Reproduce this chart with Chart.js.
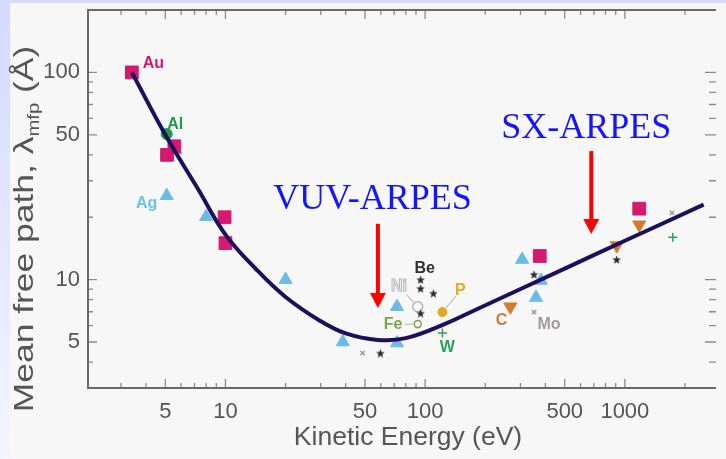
<!DOCTYPE html>
<html>
<head>
<meta charset="utf-8">
<script src="https://cdn.jsdelivr.net/npm/chart.js@4.4.0/dist/chart.umd.min.js"></script>
<style>
html, body { margin: 0; padding: 0; background: #f7f7f7; }
canvas { display: block; }
</style>
</head>
<body>
<canvas id="mfp" width="726" height="459"></canvas>
<script>
// universal curve: kinetic energy (eV) vs mean free path (Å)
const curveE = [3.4, 5, 7.3, 10, 14.4, 20, 30, 40, 58, 80, 125, 176, 500, 1000, 2480];
const curveL = [100, 50, 27.3, 16.5, 11.1, 8.25, 6.3, 5.5, 5.12, 5.22, 6.1, 7.1, 11.3, 15.4, 23];

// measured elements, grouped by marker
const squareE = [3.4, 5.1, 5.55, 9.9, 10, 375, 1180];
const squareL = [100, 40, 44, 20, 15, 13, 22];
const triE = [5.62, 5.08, 8.0, 20, 38.7, 72.3, 72.3, 306, 380, 359];
const triL = [42.2, 25.4, 20.1, 10, 5.0, 7.4, 4.94, 12.5, 9.9, 8.2];
const downE = [267, 910, 1180];
const downL = [7.4, 14.6, 18.4];
const starE = [59.7, 94.9, 94.9, 110, 94.9, 351, 910];
const starL = [4.42, 10, 9.08, 8.6, 6.89, 10.6, 12.5];
const xMarkE = [48.6, 351, 1722];
const xMarkL = [4.42, 6.97, 21];
const plusE = [122, 1738];
const plusL = [5.52, 16];
const alE = [5.08], alL = [50.4];
const niE = [91.8], niL = [7.4];
const feE = [91.8], feL = [6.1];
const pE = [122], pL = [6.97];

const xTicks = [5, 10, 50, 100, 500, 1000];
const yTicks = [5, 10, 50, 100];

const FONT = '"Liberation Sans", Arial, sans-serif';

const pts = (E, L) => E.map((e, i) => ({ x: e, y: L[i] }));

function makeStar(size, color) {
    const c = document.createElement('canvas');
    c.width = c.height = size;
    const g = c.getContext('2d');
    g.fillStyle = color;
    g.beginPath();
    for (let i = 0; i < 10; i++) {
        const r = i % 2 ? size * 0.22 : size * 0.5;
        const a = -Math.PI / 2 + i * Math.PI / 5;
        g.lineTo(size / 2 + r * Math.cos(a), size / 2 + 0.5 + r * Math.sin(a));
    }
    g.closePath();
    g.fill();
    return c;
}
const starImg = makeStar(9, '#2b2b2b');

// text notes, arrows (placed in data space)
const notes = [
    { t: 'Au', e: 4.36, l: 110, c: '#d6186e' },
    { t: 'Al', e: 5.6, l: 56, c: '#1f9a4a' },
    { t: 'Ag', e: 4.03, l: 23.4, c: '#6cc0ea' },
    { t: 'Be', e: 99.5, l: 11.3, c: '#333333' },
    { t: 'Ni', e: 74, l: 9.25, c: '#f2f2f2', stroke: '#b5b5b5', to: [91.8, 7.4], cut: [11, 6] },
    { t: 'Fe', e: 69, l: 6.08, c: '#7aa54a', to: [91.8, 6.1], cut: [12, 4] },
    { t: 'P', e: 150, l: 8.85, c: '#e5a823', to: [122, 6.97], cut: [7, 5] },
    { t: 'C', e: 241, l: 6.35, c: '#cf7a35' },
    { t: 'Mo', e: 417, l: 6.08, c: '#a09a9a' },
    { t: 'W', e: 129, l: 4.71, c: '#2aa055' }
];
const arrows = [
    { t: 'VUV-ARPES', te: 54.5, tl: 21.9, e: 58, from: 18.6, to: 7.3 },
    { t: 'SX-ARPES', te: 640, tl: 48.2, e: 679, from: 41.7, to: 16.6 }
];

function minorTicks(min, max, major) {
    const out = [];
    for (let d = 1; d <= 1000; d *= 10) {
        for (let m = 1; m <= 9; m++) {
            const v = m * d;
            if (v > min && v < max && !major.includes(v)) out.push(v);
        }
    }
    return out;
}

const framePlugin = {
    id: 'frame',
    beforeDraw(chart) {
        const { ctx, width, height } = chart;
        const grad = ctx.createLinearGradient(0, 0, 0, height);
        grad.addColorStop(0, '#d3d9ff');
        grad.addColorStop(1, '#f3f5ff');
        ctx.save();
        ctx.fillStyle = grad;
        ctx.fillRect(0, 0, width, height);
        ctx.fillStyle = '#d4daff';
        ctx.fillRect(0, 0, width, 3);
        ctx.fillStyle = '#f7f7f7';
        ctx.fillRect(10, 3, width - 10, height - 3);
        ctx.restore();
    },
    beforeDatasetsDraw(chart) {
        const { ctx, chartArea: a, scales: { x, y } } = chart;
        ctx.save();
        ctx.strokeStyle = '#8a8a8a';
        ctx.lineWidth = 1.3;
        const tick = (v, len, horiz) => {
            if (horiz) {
                const px = x.getPixelForValue(v);
                ctx.moveTo(px, a.bottom); ctx.lineTo(px, a.bottom - len);
                ctx.moveTo(px, a.top); ctx.lineTo(px, a.top + len);
            } else {
                const py = y.getPixelForValue(v);
                ctx.moveTo(a.left, py); ctx.lineTo(a.left + len, py);
                ctx.moveTo(a.right, py); ctx.lineTo(a.right - len - 2, py);
            }
        };
        ctx.beginPath();
        xTicks.forEach(v => tick(v, 9, true));
        minorTicks(x.min, x.max, xTicks).forEach(v => tick(v, 5, true));
        yTicks.forEach(v => tick(v, 9, false));
        minorTicks(y.min, y.max, yTicks).forEach(v => tick(v, 5, false));
        ctx.stroke();
        // frame: top, left, bottom (right edge falls off the picture)
        ctx.strokeStyle = '#6a6a6a';
        ctx.lineWidth = 2;
        ctx.beginPath();
        ctx.moveTo(a.right, a.top); ctx.lineTo(a.left, a.top);
        ctx.lineTo(a.left, a.bottom); ctx.lineTo(a.right, a.bottom);
        ctx.stroke();

        // axis titles
        ctx.fillStyle = '#555';
        ctx.font = '26.5px ' + FONT;
        ctx.textAlign = 'center';
        ctx.textBaseline = 'alphabetic';
        ctx.fillText('Kinetic Energy (eV)', 408, 445);

        ctx.translate(33, 229);
        ctx.rotate(-Math.PI / 2);
        ctx.scale(1.265, 1);
        ctx.textAlign = 'left';
        const big = '28px ' + FONT, small = '16px ' + FONT;
        const s1 = 'Mean free path, \u03bb', s2 = 'mfp', s3 = ' (\u00c5)';
        ctx.font = big; const w1 = ctx.measureText(s1).width, w3 = ctx.measureText(s3).width;
        ctx.font = small; const w2 = ctx.measureText(s2).width;
        let cx = -(w1 + w2 + w3) / 2;
        ctx.font = big; ctx.fillText(s1, cx, 0); cx += w1;
        ctx.font = small; ctx.fillText(s2, cx, 6); cx += w2;
        ctx.font = big; ctx.fillText(s3, cx, 0);
        ctx.restore();
    },
    afterDatasetsDraw(chart) {
        const { ctx, scales: { x, y } } = chart;
        ctx.save();
        ctx.textAlign = 'center';
        ctx.textBaseline = 'middle';
        ctx.font = 'bold 16px ' + FONT;
        notes.forEach(n => {
            const px = x.getPixelForValue(n.e), py = y.getPixelForValue(n.l);
            if (n.to) {
                const qx = x.getPixelForValue(n.to[0]), qy = y.getPixelForValue(n.to[1]);
                const d = Math.hypot(qx - px, qy - py), ux = (qx - px) / d, uy = (qy - py) / d;
                ctx.strokeStyle = '#c4c4c4';
                ctx.lineWidth = 1.2;
                ctx.beginPath();
                ctx.moveTo(px + ux * n.cut[0], py + uy * n.cut[0]);
                ctx.lineTo(qx - ux * n.cut[1], qy - uy * n.cut[1]);
                ctx.stroke();
            }
            ctx.fillStyle = n.c;
            ctx.fillText(n.t, px, py);
            if (n.stroke) {
                ctx.strokeStyle = n.stroke;
                ctx.lineWidth = 1;
                ctx.strokeText(n.t, px, py);
            }
        });

        arrows.forEach(r => {
            const ax = x.getPixelForValue(r.e);
            const y0 = y.getPixelForValue(r.from), y1 = y.getPixelForValue(r.to);
            ctx.strokeStyle = '#ff0000';
            ctx.fillStyle = '#ff0000';
            ctx.lineWidth = 4;
            ctx.beginPath();
            ctx.moveTo(ax, y0); ctx.lineTo(ax, y1 - 12);
            ctx.stroke();
            ctx.beginPath();
            ctx.moveTo(ax - 8, y1 - 15); ctx.lineTo(ax + 8, y1 - 15); ctx.lineTo(ax, y1);
            ctx.closePath();
            ctx.fill();
            ctx.fillStyle = '#1414ff';
            ctx.font = '36px "Liberation Serif", "Times New Roman", serif';
            ctx.textBaseline = 'alphabetic';
            ctx.fillText(r.t, x.getPixelForValue(r.te), y.getPixelForValue(r.tl));
        });
        ctx.restore();
    }
};

const marker = (label, E, L, style, color, r, extra) => Object.assign({
    type: 'scatter', label, data: pts(E, L), pointStyle: style, pointRadius: r,
    backgroundColor: color, borderColor: color, borderWidth: 1
}, extra || {});

new Chart(document.getElementById('mfp'), {
    data: {
        datasets: [
            {
                type: 'line', label: 'curve', data: pts(curveE, curveL),
                borderColor: '#1b0f5e', borderWidth: 4, pointRadius: 0,
                tension: 0.4, fill: false
            },
            marker('square', squareE, squareL, 'rect', '#d6186e', 9),
            marker('triangle', triE, triL, 'triangle', '#6bbbe6', 7.5),
            marker('down', downE, downL, 'triangle', '#d47a2c', 7.5, { rotation: 180 }),
            marker('star', starE, starL, starImg, '#2b2b2b', 5),
            marker('xmark', xMarkE, xMarkL, 'crossRot', '#999999', 3, { borderWidth: 1.5 }),
            marker('plus', plusE, plusL, 'cross', '#2aa055', 4.5, { borderWidth: 1.5 }),
            marker('Al', alE, alL, 'circle', '#1f9a4a', 5.5),
            marker('Ni', niE, niL, 'circle', '#f7f7f7', 5, { borderColor: '#b5b5b5', borderWidth: 1.5 }),
            marker('Fe', feE, feL, 'circle', '#f7f7f7', 3.5, { borderColor: '#7aa54a', borderWidth: 1.5 }),
            marker('P', pE, pL, 'circle', '#e5a823', 4.5)
        ]
    },
    options: {
        responsive: false,
        animation: false,
        layout: { padding: { top: 8, right: 0, left: 0, bottom: 0 } },
        plugins: { legend: { display: false }, tooltip: { enabled: false } },
        scales: {
            x: {
                type: 'logarithmic', min: 2.05, max: 2860,
                afterBuildTicks: s => { s.ticks = xTicks.map(v => ({ value: v })); },
                afterFit: s => { s.height = 71; s.paddingLeft = 0; s.paddingRight = 0; },
                grid: { display: false, drawTicks: false },
                border: { display: false },
                ticks: {
                    font: { family: FONT, size: 22 }, color: '#555', padding: 11,
                    maxRotation: 0, autoSkip: false, callback: v => String(v)
                }
            },
            y: {
                type: 'logarithmic', min: 3, max: 200,
                afterBuildTicks: s => { s.ticks = yTicks.map(v => ({ value: v })); },
                afterFit: s => { s.width = 88; s.paddingTop = 0; s.paddingBottom = 0; },
                grid: { display: false, drawTicks: false },
                border: { display: false },
                ticks: {
                    font: { family: FONT, size: 22 }, color: '#555', padding: 8,
                    autoSkip: false, callback: v => String(v)
                }
            }
        }
    },
    plugins: [framePlugin]
});
</script>
</body>
</html>
